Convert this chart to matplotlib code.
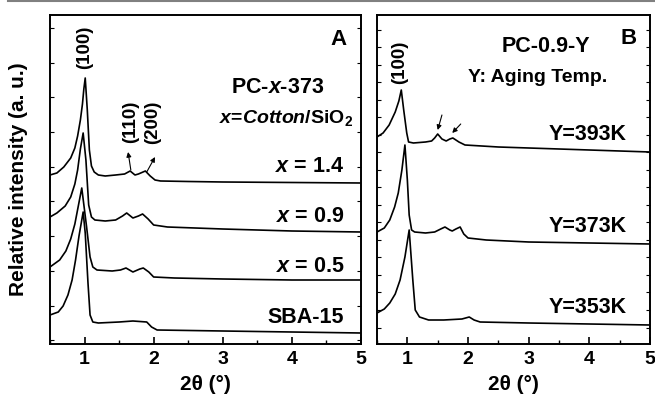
import matplotlib
matplotlib.use('Agg')
import matplotlib.pyplot as plt
from matplotlib.lines import Line2D
import numpy as np

plt.rcParams['font.family'] = ['Liberation Sans', 'DejaVu Sans']
plt.rcParams['font.weight'] = 'bold'
plt.rcParams['mathtext.fontset'] = 'custom'
plt.rcParams['mathtext.rm'] = 'Liberation Sans:bold'
plt.rcParams['mathtext.it'] = 'Liberation Sans:italic:bold'
plt.rcParams['mathtext.bf'] = 'Liberation Sans:bold'

# ---- panel A: PC-x-373 (x = cotton/SiO2), intensity in a.u. ----
x14 = [0.5, 0.6, 0.7, 0.8, 0.86, 0.9, 0.94, 0.97, 0.99, 1.01, 1.04, 1.07, 1.1, 1.14, 1.2, 1.3,
       1.45, 1.58, 1.66, 1.73, 1.78, 1.88, 1.95, 2.02, 2.1, 2.5, 3.0, 4.0, 5.0]
i14 = [169, 171, 177, 186, 196, 208, 224, 240, 255, 266, 234, 194, 178, 172, 169, 168,
       169, 170, 173, 169, 170, 173, 168, 164, 163, 162.5, 162, 161.5, 161]

x09 = [0.5, 0.6, 0.72, 0.8, 0.86, 0.9, 0.94, 0.98, 1.02, 1.06, 1.1, 1.15, 1.3, 1.45, 1.55, 1.61,
       1.7, 1.78, 1.84, 1.92, 2.0, 2.2, 3.0, 4.0, 5.0]
i09 = [127, 131, 138, 147, 160, 174, 195, 211, 184, 139, 127, 124, 123, 124, 128, 131,
       126, 128, 130, 125, 119, 117, 115, 113, 112]

x05 = [0.5, 0.64, 0.73, 0.8, 0.86, 0.91, 0.96, 1.03, 1.08, 1.12, 1.18, 1.4, 1.52, 1.6, 1.7, 1.8,
       1.85, 1.93, 2.0, 2.3, 3.0, 4.0, 5.0]
i05 = [77, 84, 93, 105, 120, 138, 156, 117, 87, 77, 74, 73, 74, 76, 72, 75,
       76, 72, 67, 66, 65, 64, 64]

xsba = [0.5, 0.62, 0.69, 0.76, 0.82, 0.87, 0.92, 0.98, 1.01, 1.05, 1.08, 1.12, 1.2, 1.5, 1.7,
        1.9, 1.97, 2.05, 3.0, 4.0, 5.0]
isba = [29, 32, 38, 49, 64, 84, 108, 132, 111, 61, 29, 22, 21, 22, 23, 22, 17, 14, 13, 12, 11]

labels_a = ['$x$ = 1.4', '$x$ = 0.9', '$x$ = 0.5', 'SBA-15']

# ---- panel B: PC-0.9-Y (Y = aging temperature) ----
x393 = [0.5, 0.6, 0.7, 0.8, 0.86, 0.9, 0.94, 0.99, 1.02, 1.1, 1.3, 1.4, 1.45, 1.5, 1.57, 1.64,
        1.7, 1.75, 1.85, 1.95, 2.5, 3.0, 4.0, 5.0]
i393 = [207, 211, 219, 232, 243, 254, 234, 211, 202, 201, 202, 203, 206, 210, 205, 203,
        205, 206, 202, 199, 197, 196, 194, 192]

x373 = [0.5, 0.62, 0.71, 0.79, 0.85, 0.91, 0.96, 1.0, 1.03, 1.07, 1.12, 1.3, 1.45, 1.55, 1.62,
        1.7, 1.74, 1.8, 1.87, 1.93, 2.0, 2.3, 3.0, 4.0, 5.0]
i373 = [112, 116, 124, 137, 151, 174, 199, 164, 129, 114, 112, 111, 112, 115, 117,
        114, 113, 115, 117, 110, 106, 104, 102, 101, 100]

x353 = [0.5, 0.62, 0.71, 0.8, 0.88, 0.96, 1.03, 1.09, 1.13, 1.2, 1.35, 1.6, 1.9, 2.02, 2.1, 2.2,
        3.0, 4.0, 5.0]
i353 = [31, 35, 41, 50, 64, 87, 114, 64, 34, 27, 24, 24, 25, 27, 24, 22, 21, 20, 19]

labels_b = ['Y=393K', 'Y=373K', 'Y=353K']

fig = plt.figure(figsize=(6.55, 4.03), dpi=100)
axA = fig.add_axes([0.0763, 0.1464, 0.4748, 0.8164])
axB = fig.add_axes([0.5756, 0.1464, 0.4168, 0.8164])

for xs, ys in [(x14, i14), (x09, i09), (x05, i05), (xsba, isba)]:
    axA.plot(xs, ys, color='k', lw=1.2)
for xs, ys in [(x393, i393), (x373, i373), (x353, i353)]:
    axB.plot(xs, ys, color='k', lw=1.2)

for ax, ystep, ystart in [(axA, 34.7, 316), (axB, 17.5, 314)]:
    ax.set_xlim(0.5, 5)
    ax.set_ylim(0, 329)
    ax.set_xticks([1, 2, 3, 4, 5])
    ax.set_xticks(np.arange(0.5, 5.01, 0.5), minor=True)
    ax.set_yticks(np.arange(ystart, 0, -ystep))
    ax.set_yticklabels([])
    ax.tick_params(axis='x', which='major', direction='in', length=5, width=1.2,
                   labelsize=14, pad=5)
    ax.tick_params(axis='x', which='minor', direction='in', length=3, width=1.0)
    ax.tick_params(axis='y', which='both', direction='in', length=3, width=0.8,
                   left=True, right=True)
    for sp in ax.spines.values():
        sp.set_linewidth(1.4)
    ax.set_xlabel('2θ (°)', fontsize=15, fontweight='bold', labelpad=5)

axA.set_ylabel('Relative intensity (a. u.)', fontsize=15, fontweight='bold', labelpad=12)

# panel A annotations
axA.text(4.68, 304, 'A', fontsize=16, fontweight='bold', ha='center', va='center')
axA.text(3.79, 256, 'PC-$x$-373', fontsize=15.5, fontweight='bold', ha='center', va='center')
axA.text(3.92, 226, '$x$=$Cotton$/SiO$_2$', fontsize=14, fontweight='bold', ha='center', va='center')
for lab, yy in zip(labels_a, [177, 127, 77, 27]):
    axA.text(4.76, yy, lab, fontsize=15.5, fontweight='bold', ha='right', va='center')
axA.text(1.0, 297, '(100)', fontsize=13.5, fontweight='bold', rotation=90, ha='center', va='center')
axA.text(1.66, 222, '(110)', fontsize=13.5, fontweight='bold', rotation=90, ha='center', va='center')
axA.text(1.99, 222, '(200)', fontsize=13.5, fontweight='bold', rotation=90, ha='center', va='center')
arr = dict(arrowstyle='-|>', lw=0.8, color='k', mutation_scale=7, shrinkA=0, shrinkB=0)
axA.annotate('', xy=(1.63, 192), xytext=(1.67, 174), arrowprops=arr)
axA.annotate('', xy=(2.02, 187), xytext=(1.90, 172), arrowprops=arr)

# panel B annotations
axB.text(4.64, 305, 'B', fontsize=16, fontweight='bold', ha='center', va='center')
axB.text(3.28, 297, 'PC-0.9-Y', fontsize=15.5, fontweight='bold', ha='center', va='center')
axB.text(3.14, 266, 'Y: Aging Temp.', fontsize=14, fontweight='bold', ha='center', va='center')
for lab, yy in zip(labels_b, [209, 117, 36]):
    axB.text(4.62, yy, lab, fontsize=15.5, fontweight='bold', ha='right', va='center')
axB.text(0.88, 282, '(100)', fontsize=13.5, fontweight='bold', rotation=90, ha='center', va='center')
axB.annotate('', xy=(1.50, 214), xytext=(1.57, 229), arrowprops=arr)
axB.annotate('', xy=(1.74, 211), xytext=(1.88, 220), arrowprops=arr)

fig.add_artist(Line2D([0.012, 1.0], [0.997, 0.997], color='#808080', lw=1.5))

fig.savefig('out.png', dpi=100)
